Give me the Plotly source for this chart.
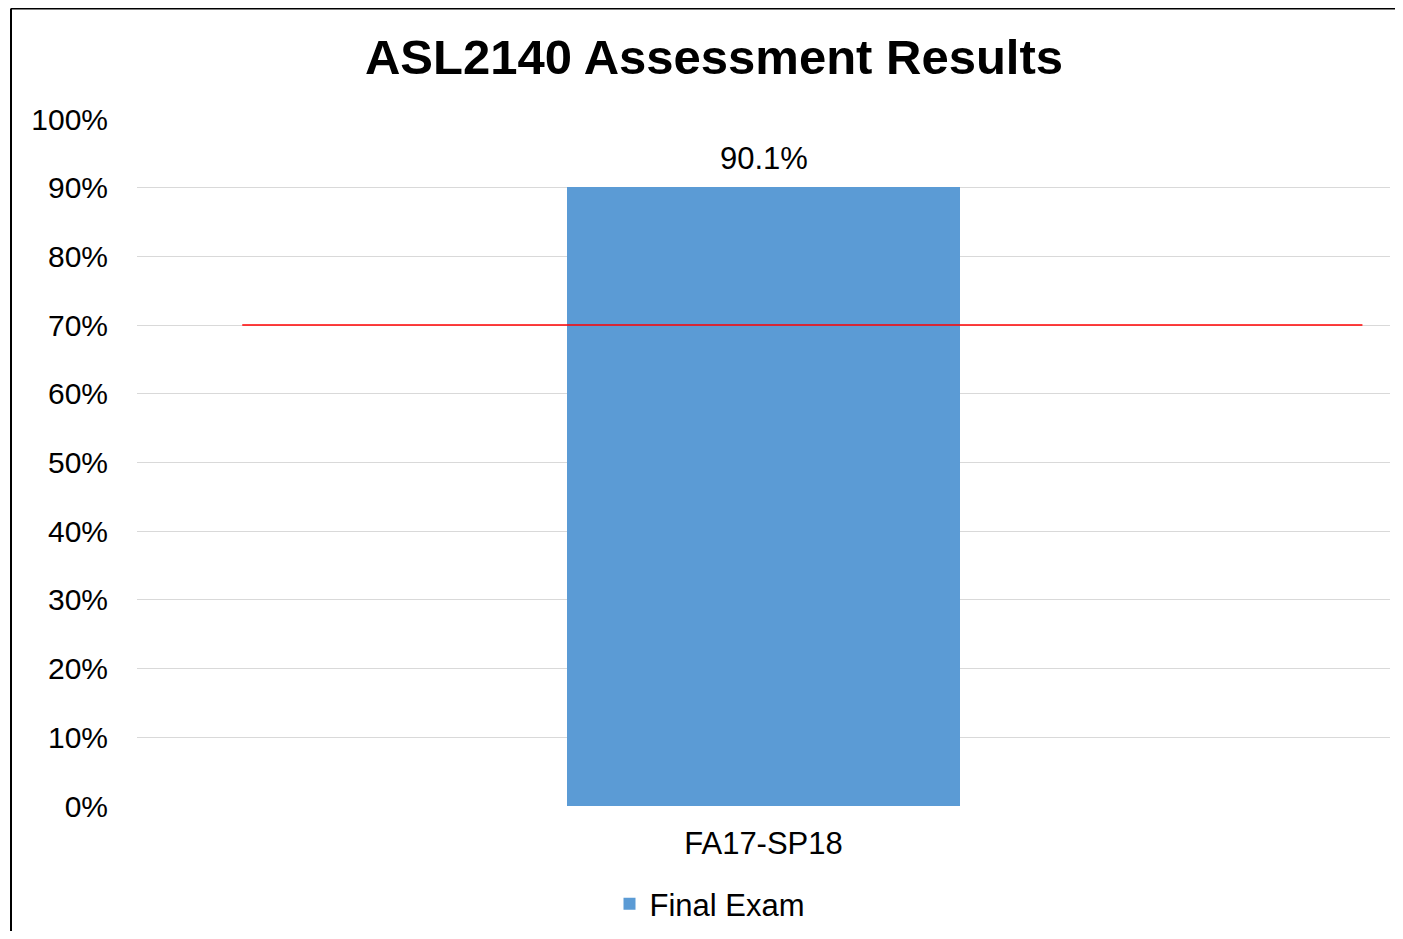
import plotly.graph_objects as go

categories = ["FA17-SP18"]
final_exam = [0.901]
threshold = 0.70
threshold_span = [-0.416, 0.478]
y_ticks = [0, 0.1, 0.2, 0.3, 0.4, 0.5, 0.6, 0.7, 0.8, 0.9, 1.0]

# page body has an 8px margin; figure is sized to fit inside the window
OFF = 8
W, H = 1403 - 2 * OFF, 939 - 2 * OFF
L = 137 - OFF
T = 119 - OFF
R = W - (1390 - OFF)
B = H - (806 - OFF)
pw, ph = W - L - R, H - T - B

FONT = "Liberation Sans, Arial, sans-serif"

fig = go.Figure()
fig.add_trace(go.Bar(
    x=categories, y=final_exam, name="Final Exam",
    marker=dict(color="#5b9bd5", line=dict(width=0)),
    width=0.314,
))

for c, v in zip(categories, final_exam):
    fig.add_annotation(x=c, y=v, text=f"{v*100:.1f}%", showarrow=False,
                       yanchor="bottom", yshift=9,
                       font=dict(family=FONT, size=31, color="#000000"))

fig.add_shape(type="line", xref="x", yref="y",
              x0=threshold_span[0], x1=threshold_span[1], y0=threshold, y1=threshold,
              line=dict(color="#ff0000", width=1.5))

# outer chart border (left and top visible)
bx0 = (11 - OFF - L) / pw
by1 = (ph + T - 0.5) / ph
fig.add_shape(type="line", xref="paper", yref="paper", x0=bx0, x1=bx0, y0=by1, y1=-1,
              line=dict(color="#000000", width=2))
fig.add_shape(type="line", xref="paper", yref="paper", x0=bx0, x1=2, y0=by1, y1=by1,
              line=dict(color="#000000", width=2))

fig.update_layout(
    width=W, height=H,
    margin=dict(l=L, r=R, t=T, b=B, autoexpand=False),
    paper_bgcolor="white", plot_bgcolor="white",
    font=dict(family=FONT, color="#000000"),
    title=dict(text="<b>ASL2140 Assessment Results</b>",
               x=(714 - OFF) / W, xref="container", xanchor="center",
               y=1 - (57 - OFF) / H, yref="container", yanchor="middle",
               font=dict(size=49, family=FONT, color="#000000")),
    bargap=0,
    showlegend=True,
    legend=dict(orientation="h", x=(710 - 137) / pw, xanchor="center",
                yref="container", y=(H - (904 - OFF)) / H, yanchor="middle",
                font=dict(size=31, family=FONT, color="#000000"),
                itemwidth=30),
    xaxis=dict(range=[-0.5, 0.5], showgrid=False, zeroline=False, showline=False,
               automargin=False,
               ticks="", tickfont=dict(size=31), ticklabelstandoff=16),
    yaxis=dict(range=[0, 1], tickvals=y_ticks, tickformat=".0%",
               showgrid=True, gridcolor="#d9d9d9", gridwidth=1,
               zeroline=False, showline=False, ticks="", automargin=False,
               tickfont=dict(size=30), ticklabelstandoff=28),
)

fig.write_html("out.html")
